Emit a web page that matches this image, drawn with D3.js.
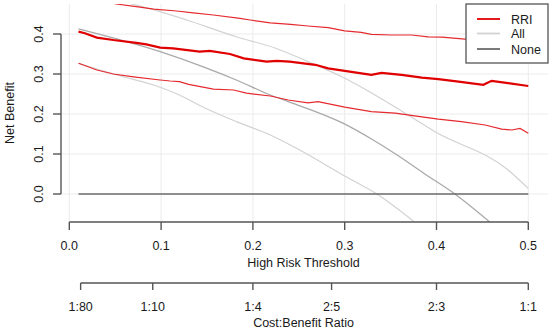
<!DOCTYPE html>
<html>
<head>
<meta charset="utf-8">
<script src="https://cdn.jsdelivr.net/npm/d3@7"></script>
<style>
  body { margin: 0; background: #fff; }
  text { font-family: "Liberation Sans", Arial, sans-serif; fill: #1a1a1a; }
</style>
</head>
<body>
<script>
// RRI net benefit (thick line) and its confidence band
var rriThr = [0.01, 0.017, 0.03, 0.048, 0.073, 0.084, 0.099, 0.113, 0.142, 0.153, 0.175, 0.19,
  0.215, 0.226, 0.24, 0.268, 0.282, 0.3, 0.329, 0.34, 0.362, 0.384, 0.402, 0.424, 0.451, 0.46, 0.478, 0.5];
var rriNB = [0.406, 0.402, 0.391, 0.385, 0.378, 0.374, 0.366, 0.364, 0.356, 0.358, 0.35, 0.339,
  0.331, 0.333, 0.331, 0.323, 0.314, 0.308, 0.298, 0.303, 0.298, 0.291, 0.287, 0.281, 0.273, 0.283, 0.277, 0.27];

var rriHiThr = [0.01, 0.051, 0.077, 0.092, 0.117, 0.135, 0.157, 0.186, 0.197, 0.219, 0.241, 0.26,
  0.282, 0.3, 0.318, 0.329, 0.351, 0.373, 0.391, 0.406, 0.431, 0.5];
var rriHi = [0.5, 0.475, 0.467, 0.462, 0.4575, 0.453, 0.4475, 0.439, 0.435, 0.428, 0.424, 0.42,
  0.416, 0.408, 0.404, 0.399, 0.3975, 0.3975, 0.393, 0.392, 0.387, 0.375];

var rriLoThr = [0.01, 0.03, 0.048, 0.07, 0.099, 0.11, 0.12, 0.13, 0.157, 0.179, 0.193, 0.219, 0.2385,
  0.26, 0.271, 0.3, 0.329, 0.355, 0.384, 0.402, 0.427, 0.453, 0.471, 0.482, 0.491, 0.5];
var rriLo = [0.327, 0.31, 0.3, 0.293, 0.285, 0.2825, 0.281, 0.274, 0.262, 0.26, 0.252, 0.245, 0.235,
  0.228, 0.231, 0.217, 0.206, 0.202, 0.193, 0.187, 0.181, 0.1725, 0.162, 0.16, 0.164, 0.152];

// Treat-all curve and its band
var allThr = [0.01, 0.099, 0.146, 0.182, 0.219, 0.2385, 0.298, 0.331, 0.36, 0.386, 0.42, 0.458];
var allNB = [0.413, 0.356, 0.318, 0.285, 0.2475, 0.231, 0.177, 0.135, 0.093, 0.052, 0.0, -0.07];

var allHiThr = [0.01, 0.099, 0.128, 0.182, 0.224, 0.26, 0.297, 0.333, 0.369, 0.398, 0.478, 0.5];
var allHi = [0.505, 0.456, 0.435, 0.393, 0.365, 0.331, 0.293, 0.2475, 0.1975, 0.156, 0.06, 0.014];

var allLoThr = [0.01, 0.052, 0.099, 0.12, 0.146, 0.182, 0.219, 0.251, 0.298, 0.335, 0.375];
var allLo = [0.327, 0.2975, 0.267, 0.2475, 0.217, 0.181, 0.1475, 0.11, 0.0475, 0.0, -0.068];

// Treat-none
var noneThr = [0.01, 0.5];
var noneNB = [0, 0];

var xTicks = [0, 0.1, 0.2, 0.3, 0.4, 0.5];
var yTicks = [0, 0.1, 0.2, 0.3, 0.4];
var cbLabels = ['1:80', '1:10', '1:4', '2:5', '2:3', '1:1'];
var legendNames = ['RRI', 'All', 'None'];

var width = 550,
  height = 331;

// plot region
var plotL = 59, plotR = 548, plotT = 4, plotB = 222;

var x = d3.scaleLinear().domain([0, 0.5]).range([69.3, 528.3]);
var y = d3.scaleLinear().domain([0, 0.4]).range([194, 34]);

var svg = d3.select('body')
  .append('svg')
  .attr('width', width)
  .attr('height', height);

svg.append('clipPath').attr('id', 'plotclip')
  .append('rect')
  .attr('x', plotL).attr('y', plotT)
  .attr('width', plotR - plotL).attr('height', plotB - plotT);

// grid
var grid = svg.append('g').attr('stroke', '#ebebeb').attr('stroke-width', 1);
grid.selectAll('.gx')
  .data(xTicks)
  .enter()
  .append('line')
  .attr('x1', d => x(d)).attr('x2', d => x(d))
  .attr('y1', plotT).attr('y2', plotB);
grid.selectAll('.gy')
  .data(yTicks)
  .enter()
  .append('line')
  .attr('x1', plotL).attr('x2', plotR)
  .attr('y1', d => y(d)).attr('y2', d => y(d));

function pairs(t, v) {
  return t.map((d, i) => [d, v[i]]);
}

var lineLin = d3.line().x(d => x(d[0])).y(d => y(d[1]));
var lineSmooth = d3.line().x(d => x(d[0])).y(d => y(d[1])).curve(d3.curveMonotoneX);

var curves = svg.append('g').attr('clip-path', 'url(#plotclip)').attr('fill', 'none');

var series = [
  { data: pairs(allHiThr, allHi), color: '#d2d2d2', w: 1.2, gen: lineSmooth },
  { data: pairs(allLoThr, allLo), color: '#d2d2d2', w: 1.2, gen: lineSmooth },
  { data: pairs(allThr, allNB), color: '#a9a9a9', w: 1.3, gen: lineSmooth },
  { data: pairs(noneThr, noneNB), color: '#6b6b6b', w: 1.5, gen: lineLin },
  { data: pairs(rriHiThr, rriHi), color: '#e52a2f', w: 1.2, gen: lineLin },
  { data: pairs(rriLoThr, rriLo), color: '#e52a2f', w: 1.2, gen: lineLin },
  { data: pairs(rriThr, rriNB), color: '#e00000', w: 2.2, gen: lineLin }
];

curves.selectAll('path')
  .data(series)
  .enter()
  .append('path')
  .attr('stroke', d => d.color)
  .attr('stroke-width', d => d.w)
  .attr('d', d => d.gen(d.data));

// y axis
var yAxis = svg.append('g').attr('stroke', '#555').attr('stroke-width', 1.4);
yAxis.append('line').attr('x1', 61).attr('x2', 61).attr('y1', y(0)).attr('y2', y(0.4));
yAxis.selectAll('.t')
  .data(yTicks)
  .enter()
  .append('line')
  .attr('x1', 53).attr('x2', 61)
  .attr('y1', d => y(d)).attr('y2', d => y(d));
svg.selectAll('.ylab')
  .data(yTicks)
  .enter()
  .append('text')
  .attr('transform', d => 'translate(43,' + y(d) + ') rotate(-90)')
  .attr('text-anchor', 'middle')
  .attr('font-size', '12.5px')
  .text(d => d.toFixed(1));
svg.append('text')
  .attr('transform', 'translate(13.5,' + ((plotT + plotB) / 2) + ') rotate(-90)')
  .attr('text-anchor', 'middle')
  .attr('font-size', '12.5px')
  .text('Net Benefit');

// x axis (threshold)
var xAxis = svg.append('g').attr('stroke', '#555').attr('stroke-width', 1.4);
xAxis.append('line').attr('x1', x(0)).attr('x2', x(0.5)).attr('y1', 222).attr('y2', 222);
xAxis.selectAll('.t')
  .data(xTicks)
  .enter()
  .append('line')
  .attr('x1', d => x(d)).attr('x2', d => x(d))
  .attr('y1', 222).attr('y2', 230);
svg.selectAll('.xlab')
  .data(xTicks)
  .enter()
  .append('text')
  .attr('x', d => x(d)).attr('y', 250)
  .attr('text-anchor', 'middle')
  .attr('font-size', '12.5px')
  .text(d => d.toFixed(1));
svg.append('text')
  .attr('x', (plotL + plotR) / 2).attr('y', 267)
  .attr('text-anchor', 'middle')
  .attr('font-size', '12.5px')
  .text('High Risk Threshold');

// cost:benefit axis
function ratioToThr(s) {
  var p = s.split(':').map(Number);
  return p[0] / (p[0] + p[1]);
}
var cbAxis = svg.append('g').attr('stroke', '#555').attr('stroke-width', 1.4);
cbAxis.append('line')
  .attr('x1', x(ratioToThr(cbLabels[0]))).attr('x2', x(ratioToThr(cbLabels[cbLabels.length - 1])))
  .attr('y1', 283).attr('y2', 283);
cbAxis.selectAll('.t')
  .data(cbLabels)
  .enter()
  .append('line')
  .attr('x1', d => x(ratioToThr(d))).attr('x2', d => x(ratioToThr(d)))
  .attr('y1', 283).attr('y2', 290);
svg.selectAll('.cblab')
  .data(cbLabels)
  .enter()
  .append('text')
  .attr('x', d => x(ratioToThr(d))).attr('y', 311)
  .attr('text-anchor', 'middle')
  .attr('font-size', '12.5px')
  .text(d => d);
svg.append('text')
  .attr('x', (plotL + plotR) / 2).attr('y', 327)
  .attr('text-anchor', 'middle')
  .attr('font-size', '12.5px')
  .text('Cost:Benefit Ratio');

// legend
var legend = svg.append('g');
legend.append('rect')
  .attr('x', 466).attr('y', 4)
  .attr('width', 82).attr('height', 59)
  .attr('fill', '#fff')
  .attr('stroke', '#555')
  .attr('stroke-width', 1.3);
var legendColors = ['#e00000', '#d2d2d2', '#6b6b6b'];
var legendRows = [19, 33.5, 49];
legend.selectAll('line')
  .data(legendNames)
  .enter()
  .append('line')
  .attr('x1', 477).attr('x2', 500)
  .attr('y1', (d, i) => legendRows[i]).attr('y2', (d, i) => legendRows[i])
  .attr('stroke', (d, i) => legendColors[i])
  .attr('stroke-width', 1.8);
legend.selectAll('text')
  .data(legendNames)
  .enter()
  .append('text')
  .attr('x', 511)
  .attr('y', (d, i) => legendRows[i] + 4.5)
  .attr('font-size', '12.5px')
  .text(d => d);
</script>
</body>
</html>
